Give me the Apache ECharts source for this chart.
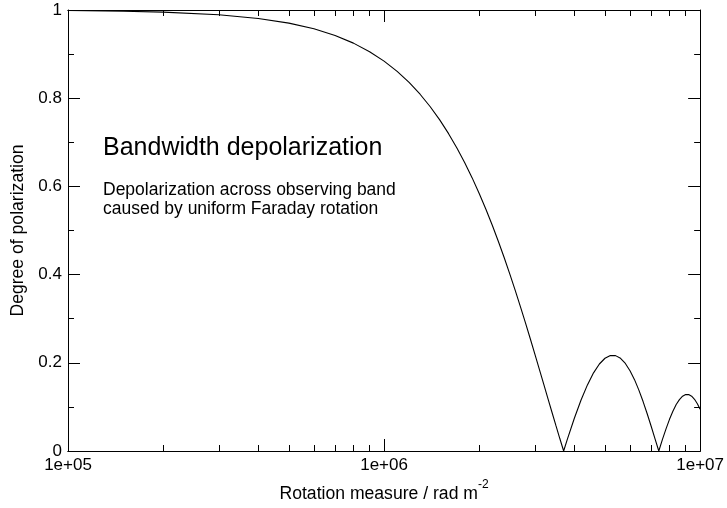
<!DOCTYPE html>
<html><head><meta charset="utf-8">
<script src="https://cdn.jsdelivr.net/npm/echarts@6/dist/echarts.min.js"></script>
<style>html,body{margin:0;padding:0;background:#fff}#c{width:727px;height:508px}</style>
</head><body><div id="c"></div>
<script>
// Rotation measure (rad m^-2)
const rmValues = [
  100000, 150000, 200000, 300000, 400000, 500000, 600000, 700000, 800000, 900000,
  1000000, 1100000, 1200000, 1300000, 1400000, 1500000, 1600000, 1700000, 1800000, 1900000,
  2000000, 2100000, 2200000, 2300000, 2400000, 2500000, 2600000, 2700000, 2800000, 2900000,
  3000000, 3100000, 3200000, 3300000, 3400000, 3500000, 3600000, 3700000, 3800000, 4000000,
  4200000, 4400000, 4600000, 4800000, 5000000, 5200000, 5400000, 5600000, 5800000, 6000000,
  6200000, 6400000, 6600000, 6800000, 7000000, 7200000, 7400000, 7600000, 7800000, 8000000,
  8200000, 8400000, 8600000, 8800000, 9000000, 9200000, 9400000, 9600000, 9800000, 10000000
];
// Degree of polarization
const polValues = [
  0.9988, 0.9973, 0.9952, 0.9892, 0.9809, 0.9702, 0.9573, 0.9422, 0.9249, 0.9055,
  0.8841, 0.8608, 0.8357, 0.8090, 0.7806, 0.7508, 0.7196, 0.6872, 0.6537, 0.6193,
  0.5841, 0.5482, 0.5119, 0.4751, 0.4382, 0.4012, 0.3642, 0.3274, 0.2911, 0.2551,
  0.2198, 0.1853, 0.1516, 0.1189, 0.0873, 0.0569, 0.0277, 0.0, 0.0263, 0.0742,
  0.1155, 0.1499, 0.1772, 0.1973, 0.2103, 0.2166, 0.2163, 0.2101, 0.1985, 0.1821,
  0.1618, 0.1381, 0.1121, 0.0845, 0.0561, 0.0276, 0.0, 0.0262, 0.0503, 0.0718,
  0.0902, 0.1053, 0.1166, 0.1242, 0.1279, 0.1279, 0.1243, 0.1173, 0.1073, 0.0947
];
const xMajorTicks = [100000, 1000000, 10000000];
const xTickLabels = ['1e+05', '1e+06', '1e+07'];
const xMinorTicks = [200000, 300000, 400000, 500000, 600000, 700000, 800000, 900000,
  2000000, 3000000, 4000000, 5000000, 6000000, 7000000, 8000000, 9000000];
const yMin = 0, yMax = 1, yStep = 0.2;

const FONT = "'Liberation Sans', Arial, Helvetica, sans-serif";
const black = '#000';

function xAxisDef(position, ticks, len, withLabels) {
  return {
    type: 'log', logBase: 10, position: position, min: 100000, max: 10000000,
    axisLine: { show: true, lineStyle: { color: black, width: 1 } },
    axisTick: { show: true, inside: true, length: len, customValues: ticks, lineStyle: { color: black, width: 1 } },
    axisLabel: withLabels ? {
      show: true, customValues: xMajorTicks, margin: 6, color: black, fontSize: 17, fontFamily: FONT,
      formatter: function (v) { const i = xMajorTicks.indexOf(v); return i >= 0 ? xTickLabels[i] : ''; }
    } : { show: false },
    splitLine: { show: false }, minorTick: { show: false }, minorSplitLine: { show: false }
  };
}

const bottomMajor = xAxisDef('bottom', xMajorTicks, 12, true);
bottomMajor.name = '{m|Rotation measure / rad m}{s|-2}';
bottomMajor.nameLocation = 'middle';
bottomMajor.nameGap = 28;
bottomMajor.nameTextStyle = {
  fontFamily: FONT, color: black,
  rich: {
    m: { fontSize: 17.6, fontFamily: FONT, color: black, lineHeight: 24, verticalAlign: 'bottom' },
    s: { fontSize: 12, fontFamily: FONT, color: black, lineHeight: 24, verticalAlign: 'top' }
  }
};

function yAxisDef(position, withLabels) {
  return {
    type: 'value', position: position, min: yMin, max: yMax, interval: yStep,
    axisLine: { show: true, lineStyle: { color: black, width: 1 } },
    axisTick: { show: true, inside: true, length: 12, lineStyle: { color: black, width: 1 } },
    minorTick: { show: true, splitNumber: 2, length: 6, lineStyle: { color: black, width: 1 } },
    axisLabel: withLabels ? { show: true, margin: 6, color: black, fontSize: 17, fontFamily: FONT } : { show: false },
    splitLine: { show: false }
  };
}
const leftY = yAxisDef('left', true);
leftY.name = 'Degree of polarization';
leftY.nameLocation = 'middle';
leftY.nameRotate = 90;
leftY.nameGap = 40;
leftY.nameTextStyle = { fontSize: 17.6, fontFamily: FONT, color: black };

const chart = echarts.init(document.getElementById('c'), null, { renderer: 'canvas' });
chart.setOption({
  animation: false,
  backgroundColor: '#fff',
  textStyle: { fontFamily: FONT },
  title: {
    text: 'Bandwidth depolarization',
    subtext: 'Depolarization across observing band\ncaused by uniform Faraday rotation',
    left: 103, top: 136, padding: 0, itemGap: 19,
    textStyle: { fontSize: 25, fontWeight: 'normal', color: black, fontFamily: FONT, lineHeight: 25 },
    subtextStyle: { fontSize: 17.5, color: black, fontFamily: FONT, lineHeight: 19.5 }
  },
  grid: { left: 68, top: 10, right: 24, bottom: 54, containLabel: false },
  xAxis: [
    bottomMajor,
    xAxisDef('bottom', xMinorTicks, 6, false),
    xAxisDef('top', xMajorTicks, 12, false),
    xAxisDef('top', xMinorTicks, 6, false)
  ],
  yAxis: [leftY, yAxisDef('right', false)],
  series: [{
    type: 'line', xAxisIndex: 0, yAxisIndex: 0,
    data: rmValues.map(function (x, i) { return [x, polValues[i]]; }),
    showSymbol: false, symbol: 'none', smooth: false,
    lineStyle: { color: black, width: 1.1 }, clip: true
  }]
});
</script></body></html>
